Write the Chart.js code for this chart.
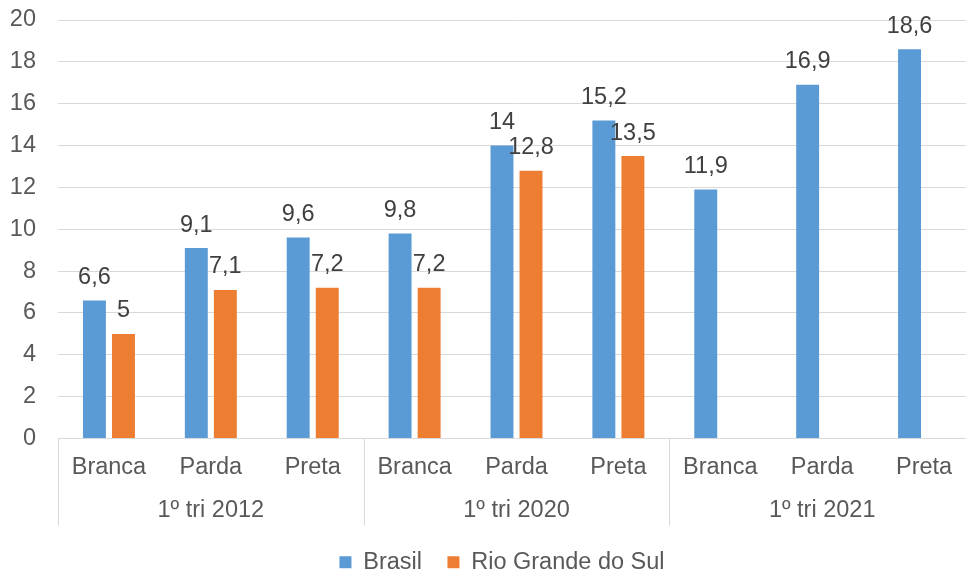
<!DOCTYPE html>
<html>
<head>
<meta charset="utf-8">
<script src="https://cdn.jsdelivr.net/npm/chart.js@4.4.1/dist/chart.umd.min.js"></script>
<style>
html,body{margin:0;padding:0;background:#fff;overflow:hidden;}
#wrap{width:976px;height:570px;}
</style>
</head>
<body>
<div id="wrap"><canvas id="c" width="976" height="570"></canvas></div>
<script>
const categories = ['Branca','Parda','Preta','Branca','Parda','Preta','Branca','Parda','Preta'];
const groups = ['1º tri 2012','1º tri 2020','1º tri 2021'];
const brasil = [6.6, 9.1, 9.6, 9.8, 14, 15.2, 11.9, 16.9, 18.6];
const rioGrandeDoSul = [5, 7.1, 7.2, 7.2, 12.8, 13.5, null, null, null];
const yTicks = [0, 2, 4, 6, 8, 10, 12, 14, 16, 18, 20];

const FONT = "'Liberation Sans', Arial, sans-serif";
const FS = 23.5;
const AXIS_COLOR = '#595959';
const LABEL_COLOR = '#404040';
const GRID = '#d9d9d9';

const groupPlugin = {
  id: 'groups',
  afterLayout(chart) {
    const lg = chart.legend;
    if (lg) {
      lg.left += 14.5; lg.right += 14.5;
      lg.top += 14; lg.bottom += 14;
    }
  },
  afterDraw(chart) {
    const ctx = chart.ctx;
    const x = chart.scales.x;
    const area = chart.chartArea;
    const per = categories.length / groups.length;
    ctx.save();
    ctx.strokeStyle = GRID;
    ctx.lineWidth = 1;
    const bounds = [];
    for (let g = 0; g <= groups.length; g++) {
      let px;
      if (g === 0) px = area.left;
      else if (g === groups.length) px = area.right;
      else px = (x.getPixelForTick(g * per - 1) + x.getPixelForTick(g * per)) / 2;
      bounds.push(px);
      const xx = Math.round(px) + 0.5;
      ctx.beginPath();
      ctx.moveTo(xx, area.bottom);
      ctx.lineTo(xx, area.bottom + 87);
      ctx.stroke();
    }
    ctx.fillStyle = AXIS_COLOR;
    ctx.font = FS + 'px ' + FONT;
    ctx.textAlign = 'center';
    ctx.textBaseline = 'middle';
    for (let g = 0; g < groups.length; g++) {
      ctx.fillText(groups[g], (bounds[g] + bounds[g + 1]) / 2, area.bottom + 72);
    }
    ctx.restore();
  },
  afterDatasetsDraw(chart) {
    const ctx = chart.ctx;
    ctx.save();
    ctx.fillStyle = LABEL_COLOR;
    ctx.font = FS + 'px ' + FONT;
    ctx.textAlign = 'center';
    ctx.textBaseline = 'alphabetic';
    chart.data.datasets.forEach((ds, di) => {
      const meta = chart.getDatasetMeta(di);
      meta.data.forEach((bar, i) => {
        const v = ds.data[i];
        if (v === null || v === undefined) return;
        ctx.fillText(String(v).replace('.', ','), bar.x, bar.y - 16.5);
      });
    });
    ctx.restore();
  }
};

new Chart(document.getElementById('c'), {
  type: 'bar',
  data: {
    labels: categories,
    datasets: [
      { label: 'Brasil', data: brasil, backgroundColor: '#5b9bd5', borderWidth: 0,
        categoryPercentage: 0.57, barPercentage: 0.79 },
      { label: 'Rio Grande do Sul', data: rioGrandeDoSul, backgroundColor: '#ed7d31', borderWidth: 0,
        categoryPercentage: 0.57, barPercentage: 0.79 }
    ]
  },
  options: {
    responsive: false,
    animation: false,
    devicePixelRatio: 1,
    layout: { padding: { top: 20, left: 0, right: 1, bottom: 0 } },
    plugins: {
      tooltip: { enabled: false },
      legend: {
        position: 'bottom',
        labels: {
          boxWidth: 12, boxHeight: 12, padding: 25.5,
          color: AXIS_COLOR,
          font: { family: FONT, size: FS }
        }
      }
    },
    scales: {
      x: {
        grid: { display: false, drawTicks: false },
        border: { display: false },
        ticks: {
          color: AXIS_COLOR, font: { family: FONT, size: FS },
          maxRotation: 0, minRotation: 0, autoSkip: false, padding: 15
        },
        afterFit(s) { s.height = 72.5; }
      },
      y: {
        min: 0, max: 20,
        afterBuildTicks(s) { s.ticks = yTicks.map(v => ({ value: v })); },
        grid: { color: GRID, lineWidth: 1, drawTicks: true, tickLength: 22, tickColor: 'rgba(0,0,0,0)' },
        border: { display: false },
        ticks: { color: AXIS_COLOR, font: { family: FONT, size: FS }, padding: 0 },
        afterFit(s) { s.width = 58; }
      }
    }
  },
  plugins: [groupPlugin]
});
</script>
</body>
</html>
